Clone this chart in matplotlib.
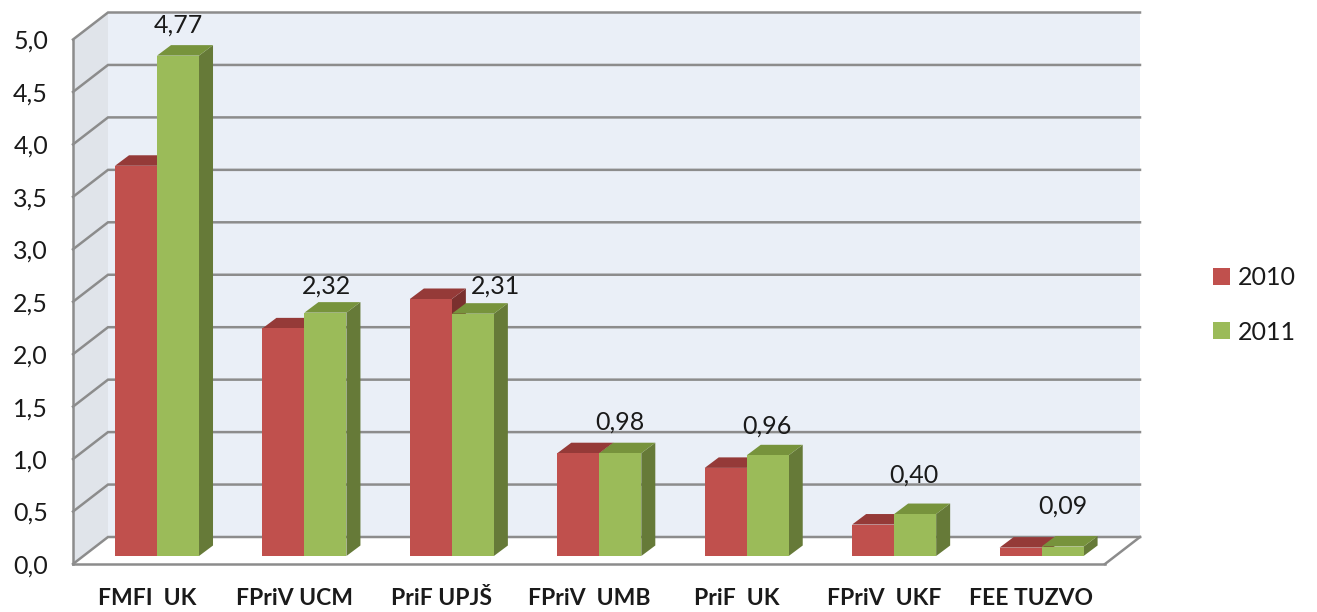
import matplotlib
matplotlib.use("Agg")
import matplotlib.pyplot as plt
from matplotlib.patches import Polygon, Patch
from matplotlib.transforms import Affine2D, IdentityTransform

plt.rcParams['font.family'] = ['Lato', 'DejaVu Sans']

categories = ["FMFI  UK", "FPriV UCM", "PriF UPJŠ", "FPriV  UMB", "PriF  UK", "FPriV  UKF", "FEE TUZVO"]
series_names = ["2010", "2011"]
values_2010 = [3.72, 2.17, 2.45, 0.98, 0.84, 0.30, 0.08]
values_2011 = [4.77, 2.32, 2.31, 0.98, 0.96, 0.40, 0.09]
label_texts = ["4,77", "2,32", "2,31", "0,98", "0,96", "0,40", "0,09"]
y_ticks = [0.0, 0.5, 1.0, 1.5, 2.0, 2.5, 3.0, 3.5, 4.0, 4.5, 5.0]
y_tick_labels = ["0,0", "0,5", "1,0", "1,5", "2,0", "2,5", "3,0", "3,5", "4,0", "4,5", "5,0"]

W, H = 1317, 612
fig = plt.figure(figsize=(W / 100, H / 100), dpi=100, facecolor="white")
ax = fig.add_axes([73 / W, (H - 564) / H, (1105 - 73) / W, (564 - 39.5) / H])
ax.set_xlim(-0.5, 6.5)
ax.set_ylim(0, 5)
ax.patch.set_visible(False)

GRID = "#8C8C8C"
LW = 1.8
WALL_D = (35, 27)      # depth of chart box, px
BAR_BASE = (10.3, 8)   # front of bars relative to front plane, px
BAR_D = (14, 10.5)     # depth of a bar, px
BAR_W = 42 / 147.43

def px(x, y, d=(0, 0)):
    X, Y = ax.transData.transform((x, y))
    return (X + d[0], Y + d[1])

def poly(points, fc, ec="none", lw=0, z=1):
    ax.add_patch(Polygon(points, closed=True, facecolor=fc, edgecolor=ec, linewidth=lw,
                         transform=IdentityTransform(), zorder=z, clip_on=False))

x0, x1 = ax.get_xlim()
# back wall, side wall, floor
poly([px(x0, 0, WALL_D), px(x1, 0, WALL_D), px(x1, 5, WALL_D), px(x0, 5, WALL_D)], "#EAEFF7")
poly([px(x0, 0), px(x0, 0, WALL_D), px(x0, 5, WALL_D), px(x0, 5)], "#E0E4EA")
poly([px(x0, 0), px(x1, 0), px(x1, 0, WALL_D), px(x0, 0, WALL_D)], "white")

for t in y_ticks:
    a, b, c = px(x0, t), px(x0, t, WALL_D), px(x1, t, WALL_D)
    ax.plot([a[0], b[0], c[0]], [a[1], b[1], c[1]], color=GRID, lw=LW,
            transform=IdentityTransform(), zorder=2, clip_on=False, solid_joinstyle="miter")
a, b = px(x1, 0), px(x1, 0, WALL_D)
ax.plot([a[0], b[0]], [a[1], b[1]], color=GRID, lw=LW, transform=IdentityTransform(), zorder=2, clip_on=False)

base_d = BAR_BASE
back_d = (BAR_BASE[0] + BAR_D[0], BAR_BASE[1] + BAR_D[1])
front_tf = ax.transData + Affine2D().translate(*base_d)

def bar3d(xl, v, front, top, side, z):
    xr = xl + BAR_W
    poly([px(xr, 0, base_d), px(xr, 0, back_d), px(xr, v, back_d), px(xr, v, base_d)], side, z=z)
    poly([px(xl, v, base_d), px(xr, v, base_d), px(xr, v, back_d), px(xl, v, back_d)], top, z=z)
    ax.bar(xl, v, width=BAR_W, align="edge", color=front, transform=front_tf, zorder=z, clip_on=False)

for i, (r, g) in enumerate(zip(values_2010, values_2011)):
    bar3d(i - BAR_W, r, "#C0504D", "#953A38", "#7A302E", 3 + i * 0.1)
    bar3d(i, g, "#9BBB59", "#77933C", "#667A38", 3.05 + i * 0.1)

# data labels (the third one sits beside its bar, as in the reference)
label_offsets = [31, 27, 28, 31, 29, 39, 40]
label_shift_x = [0, 1, 23, 0, -1, -1, 0]
for i, g in enumerate(values_2011):
    X, Y = px(i + BAR_W / 2, g, base_d)
    ax.text(X + label_shift_x[i], Y + label_offsets[i], label_texts[i], transform=IdentityTransform(),
            ha="center", va="center", fontsize=18, color="#1A1A1A", zorder=6, clip_on=False)

ax.set_yticks(y_ticks, y_tick_labels)
ax.set_xticks(range(len(categories)), categories)
ax.tick_params(axis="y", length=0, pad=18, labelsize=18, labelcolor="#1A1A1A")
ax.tick_params(axis="x", length=0, pad=17, labelsize=16.5, labelcolor="#1A1A1A")
for lab in ax.get_xticklabels():
    lab.set_fontweight("bold")
for s in ("top", "right"):
    ax.spines[s].set_visible(False)
for s in ("left", "bottom"):
    ax.spines[s].set_color(GRID)
    ax.spines[s].set_linewidth(LW)
    ax.spines[s].set_zorder(2.5)

handles = [Patch(facecolor="#C0504D", label=series_names[0]), Patch(facecolor="#9BBB59", label=series_names[1])]
fig.legend(handles=handles, loc="center left", bbox_to_anchor=(1190 / W, (H - 305) / H), frameon=False,
           fontsize=18, handlelength=0.68, handleheight=0.68, handletextpad=0.32, labelspacing=1.25,
           labelcolor="#1A1A1A")

fig.savefig("out.png", dpi=100)
